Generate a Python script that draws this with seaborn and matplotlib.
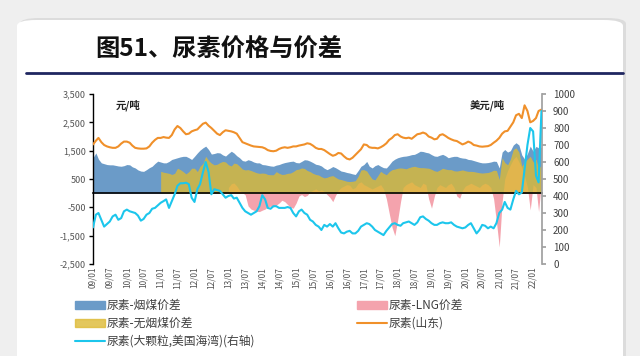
import numpy as np
import pandas as pd
import matplotlib
matplotlib.use("Agg")
import matplotlib.pyplot as plt
import matplotlib.dates as mdates
from matplotlib.patches import FancyBboxPatch, Patch
from matplotlib.lines import Line2D
import seaborn as sns

# monthly data, 2009-01 .. 2022-04
months = pd.date_range("2009-01-01", periods=160, freq="MS")

# 尿素(山东), 元/吨
urea_sd = [1720, 1850, 1950, 1800, 1700, 1650, 1620, 1600, 1600, 1650,
           1750, 1820, 1820, 1780, 1680, 1600, 1580, 1570, 1570, 1580,
           1650, 1780, 1880, 1950, 1950, 1980, 1960, 1950, 2050, 2250,
           2370, 2300, 2180, 2080, 2100, 2180, 2220, 2250, 2350, 2450,
           2490, 2380, 2300, 2200, 2100, 2050, 2150, 2220, 2200, 2180,
           2150, 2100, 1950, 1800, 1760, 1720, 1680, 1650, 1640, 1630,
           1620, 1580, 1520, 1490, 1480, 1500, 1560, 1600, 1620, 1600,
           1620, 1650, 1650, 1680, 1700, 1720, 1760, 1740, 1680, 1600,
           1560, 1560, 1520, 1450, 1380, 1320, 1350, 1420, 1400, 1300,
           1220, 1190, 1250, 1350, 1450, 1550, 1720, 1700, 1620, 1600,
           1600, 1580, 1620, 1680, 1760, 1880, 1950, 2050, 2080, 2000,
           1960, 1940, 1960, 1920, 2000, 2080, 2100, 2140, 2100, 2000,
           1960, 1900, 1920, 2050, 2080, 2020, 1950, 1900, 1860, 1840,
           1780, 1720, 1760, 1820, 1780, 1700, 1680, 1650, 1640, 1650,
           1660, 1700, 1780, 1850, 1950, 2100, 2180, 2200, 2350, 2500,
           2750, 2800, 2650, 3100, 2900, 2500, 2550, 2650, 2900, 2950]

# 尿素-烟煤价差
spread_bit = [1250, 1420, 1200, 1070, 1040, 1010, 1000, 1000, 980, 960,
              950, 970, 1010, 1000, 930, 890, 820, 780, 770, 830,
              900, 950, 1050, 1130, 1100, 1070, 1070, 1120, 1190, 1220,
              1250, 1280, 1300, 1300, 1250, 1190, 1300, 1420, 1520, 1600,
              1660, 1540, 1380, 1400, 1430, 1420, 1350, 1310, 1400, 1480,
              1420, 1320, 1250, 1150, 1130, 1180, 1150, 1100, 1070, 1070,
              1010, 1000, 980, 960, 950, 990, 1010, 1050, 1080, 1100,
              1120, 1130, 1080, 1070, 1120, 1180, 1170, 1130, 1080, 1020,
              1000, 960, 880, 830, 880, 940, 900, 840, 780, 760,
              730, 710, 680, 660, 800, 950, 1010, 1120, 950, 890,
              970, 1010, 950, 900, 890, 1000, 1130, 1200, 1250, 1280,
              1300, 1310, 1330, 1360, 1370, 1420, 1480, 1470, 1440, 1420,
              1360, 1310, 1300, 1340, 1370, 1320, 1250, 1280, 1300, 1300,
              1260, 1240, 1230, 1190, 1180, 1150, 1120, 1090, 1070, 1070,
              1080, 1100, 1130, 1120, 890, 1450, 1540, 1450, 1500, 1700,
              1780, 1700, 1350, 1200, 1400, 1660, 1480, 1650, 1600, 1620]

# 尿素-无烟煤价差 (from 2011-01)
spread_anth = [np.nan] * 24 + [
    770, 740, 720, 700, 660, 700, 880, 830, 760, 680,
    760, 880, 880, 760, 950, 1050, 1300, 1150, 1060, 1000,
    1020, 1080, 1120, 1100, 1000, 960, 1060, 1040, 950, 850,
    820, 830, 800, 760, 720, 700, 710, 700, 660, 650,
    650, 760, 700, 660, 670, 700, 710, 760, 830, 850,
    890, 870, 800, 760, 700, 660, 640, 580, 540, 560,
    600, 620, 560, 500, 480, 450, 420, 410, 420, 440,
    600, 820, 830, 780, 640, 500, 470, 620, 770, 700,
    650, 760, 830, 850, 880, 890, 880, 860, 900, 930,
    950, 920, 900, 900, 890, 880, 840, 790, 770, 820,
    880, 850, 830, 830, 790, 780, 800, 820, 790, 770,
    770, 760, 740, 720, 710, 720, 730, 760, 810, 800,
    480, 1250, 1080, 1000, 1200, 1540, 1600, 1450, 950, 1100,
    1200, 1300, 1100, 1200, 870, 1000]

# 尿素-LNG价差 (from 2013-01)
spread_lng = [np.nan] * 48 + [
    200, 330, 360, 250, 100, 20, -60, -450, -560, -600,
    -640, -650, -600, -560, -480, -460, -480, -420, -350, -250,
    -300, -400, -500, -530, -350, -100, -50, -120, -80, 50,
    100, 150, 80, 120, 60, -50, -150, -300, -80, 100,
    200, 250, 300, 280, 150, 200, 350, 400, 300, 250,
    200, 150, 200, 250, 300, 150, -200, -700, -1200, -1500,
    -950, -300, 200, 300, 350, 400, 300, 250, 200, 350,
    300, -200, -530, -100, 200, 300, 250, 200, 300, 350,
    200, -100, -180, 100, 250, 300, 350, 300, 250, 200,
    300, 350, 300, 200, -200, -1000, -1900, -300, 500, 800,
    1000, 1200, 1300, 1100, 900, 600, 200, -590, 300, 200,
    -650, 400]

# 尿素(大颗粒,美国海湾), 美元/吨, right axis
urea_us = [215, 290, 300, 260, 220, 235, 250, 280, 290, 260,
           270, 310, 320, 310, 305, 300, 285, 255, 265, 290,
           300, 325, 330, 345, 360, 370, 380, 330, 370, 410,
           460, 475, 475, 478, 470, 390, 365, 440, 470, 540,
           600, 540, 410, 440, 435, 430, 410, 390, 400, 405,
           385, 390, 360, 330, 310, 300, 290, 300, 310, 340,
           405, 380, 330, 325, 340, 340, 330, 330, 330, 335,
           330, 300, 280, 310, 320, 300, 290, 260, 250, 230,
           220, 200, 230, 220, 235, 220, 240, 210, 185, 180,
           190, 195, 180, 180, 195, 220, 230, 240, 235, 220,
           200, 190, 180, 170, 195, 215, 235, 240, 230, 225,
           240, 245, 250, 240, 230, 245, 275, 280, 265, 255,
           240, 230, 230, 240, 245, 240, 240, 245, 230, 220,
           215, 210, 215, 230, 240, 210, 180, 200, 230, 225,
           210, 220, 210, 240, 300, 320, 365, 330, 320, 380,
           430, 410, 420, 560, 700, 800, 780, 520, 480, 900]

left_ticks = [-2500, -1500, -500, 500, 1500, 2500, 3500]
left_ticklabels = ["-2,500", "-1,500", "-500", "500", "1,500", "2,500", "3,500"]

c_bit = "#6B9BC8"
c_anth = "#DDBA35"
c_lng = "#F4A3AD"
c_sd = "#F0902A"
c_us = "#1CC6EC"

sns.set_theme(style="white")
plt.rcParams["font.family"] = ["Noto Sans CJK SC", "DejaVu Sans"]
plt.rcParams["axes.unicode_minus"] = False

fig = plt.figure(figsize=(6.4, 3.56), dpi=100)
fig.patch.set_facecolor("#EFEFEF")

# card
shadow = FancyBboxPatch((20 / 640, -0.2), 606 / 640, 1.2 - 18 / 356,
                        boxstyle="round,pad=0,rounding_size=0.03",
                        transform=fig.transFigure, fc="#DCDCDC", ec="none",
                        mutation_aspect=356 / 640, zorder=-3)
card = FancyBboxPatch((17 / 640, -0.2), 606 / 640, 1.2 - 20 / 356,
                      boxstyle="round,pad=0,rounding_size=0.03",
                      transform=fig.transFigure, fc="white", ec="none",
                      mutation_aspect=356 / 640, zorder=-2)
fig.patches.extend([shadow, card])

fig.text(95 / 640, 1 - 50 / 356, "图51、尿素价格与价差", fontsize=17.5,
         fontweight="bold", color="#111111", va="center", ha="left")
fig.add_artist(Line2D([26 / 640, 623 / 640], [1 - 73 / 356, 1 - 73 / 356],
                      color="#1F2660", lw=2))

ax = fig.add_axes([93 / 640, 1 - 264 / 356, 449 / 640, 170 / 356])
ax.set_facecolor("none")

ax.fill_between(months, 0, spread_bit, color=c_bit, lw=0, zorder=1)
ax.fill_between(months, 0, spread_lng, color=c_lng, lw=0, zorder=2)
ax.fill_between(months, 0, spread_anth, color=c_anth, alpha=0.8, lw=0, zorder=3)
sns.lineplot(x=months, y=urea_sd, ax=ax, color=c_sd, lw=1.5, zorder=5)

ax.set_ylim(-2500, 3500)
ax.set_xlim(months[0], months[-1] + pd.Timedelta(days=6))
ax.set_yticks(left_ticks)
ax.set_yticklabels(left_ticklabels)
ax.set_xlabel("")
ax.set_ylabel("")

ax.xaxis.set_major_locator(mdates.MonthLocator(bymonth=[1, 7]))
ax.xaxis.set_major_formatter(mdates.DateFormatter("%y/%m"))
ax.spines["bottom"].set_position(("data", 0))
ax.spines["bottom"].set_color("black")
ax.spines["bottom"].set_linewidth(1.2)
ax.spines["bottom"].set_zorder(6)
ax.spines["top"].set_visible(False)
ax.spines["right"].set_visible(False)
ax.spines["left"].set_color("black")
ax.spines["left"].set_linewidth(1.0)
ax.tick_params(axis="x", direction="in", length=3, width=1, color="black",
               pad=53, labelsize=6, labelcolor="#555555", labelrotation=90)
ax.tick_params(axis="y", direction="out", length=3, width=1, color="black",
               left=True, labelsize=6.5, labelcolor="#555555", pad=2)
for lab in ax.get_xticklabels():
    lab.set_va("top")

ax2 = ax.twinx()
sns.lineplot(x=months, y=urea_us, ax=ax2, color=c_us, lw=1.5, zorder=6)
ax2.set_ylim(0, 1000)
ax2.set_yticks(range(0, 1001, 100))
ax2.set_ylabel("")
for s in ["top", "left", "bottom"]:
    ax2.spines[s].set_visible(False)
ax2.spines["right"].set_color("#A0A0A0")
ax2.tick_params(axis="y", direction="out", length=3, color="#A0A0A0", right=True,
                labelsize=7, labelcolor="#404040", pad=5)

ax.text(0.05, 0.97, "元/吨", transform=ax.transAxes, fontsize=7.5,
        fontweight="bold", va="top", ha="left", color="#222222")
ax2.text(0.84, 0.97, "美元/吨", transform=ax.transAxes, fontsize=7.5,
         fontweight="bold", va="top", ha="left", color="#222222")

h1 = [Patch(color=c_bit), Patch(color=c_anth, alpha=0.8), Line2D([], [], color=c_us, lw=1.5)]
l1 = ["尿素-烟煤价差", "尿素-无烟煤价差", "尿素(大颗粒,美国海湾)(右轴)"]
h2 = [Patch(color=c_lng), Line2D([], [], color=c_sd, lw=1.5)]
l2 = ["尿素-LNG价差", "尿素(山东)"]
leg_kw = dict(loc="upper left", frameon=False, fontsize=8.5, handlelength=2.5,
              handleheight=0.6, handletextpad=0.2, labelspacing=0.42,
              borderpad=0, borderaxespad=0, labelcolor="#404040")
fig.legend(h1, l1, bbox_to_anchor=(75 / 640, 1 - 299 / 356), **leg_kw)
fig.legend(h2, l2, bbox_to_anchor=(357 / 640, 1 - 299 / 356), **leg_kw)

fig.savefig("out.png", dpi=100, facecolor=fig.get_facecolor())
